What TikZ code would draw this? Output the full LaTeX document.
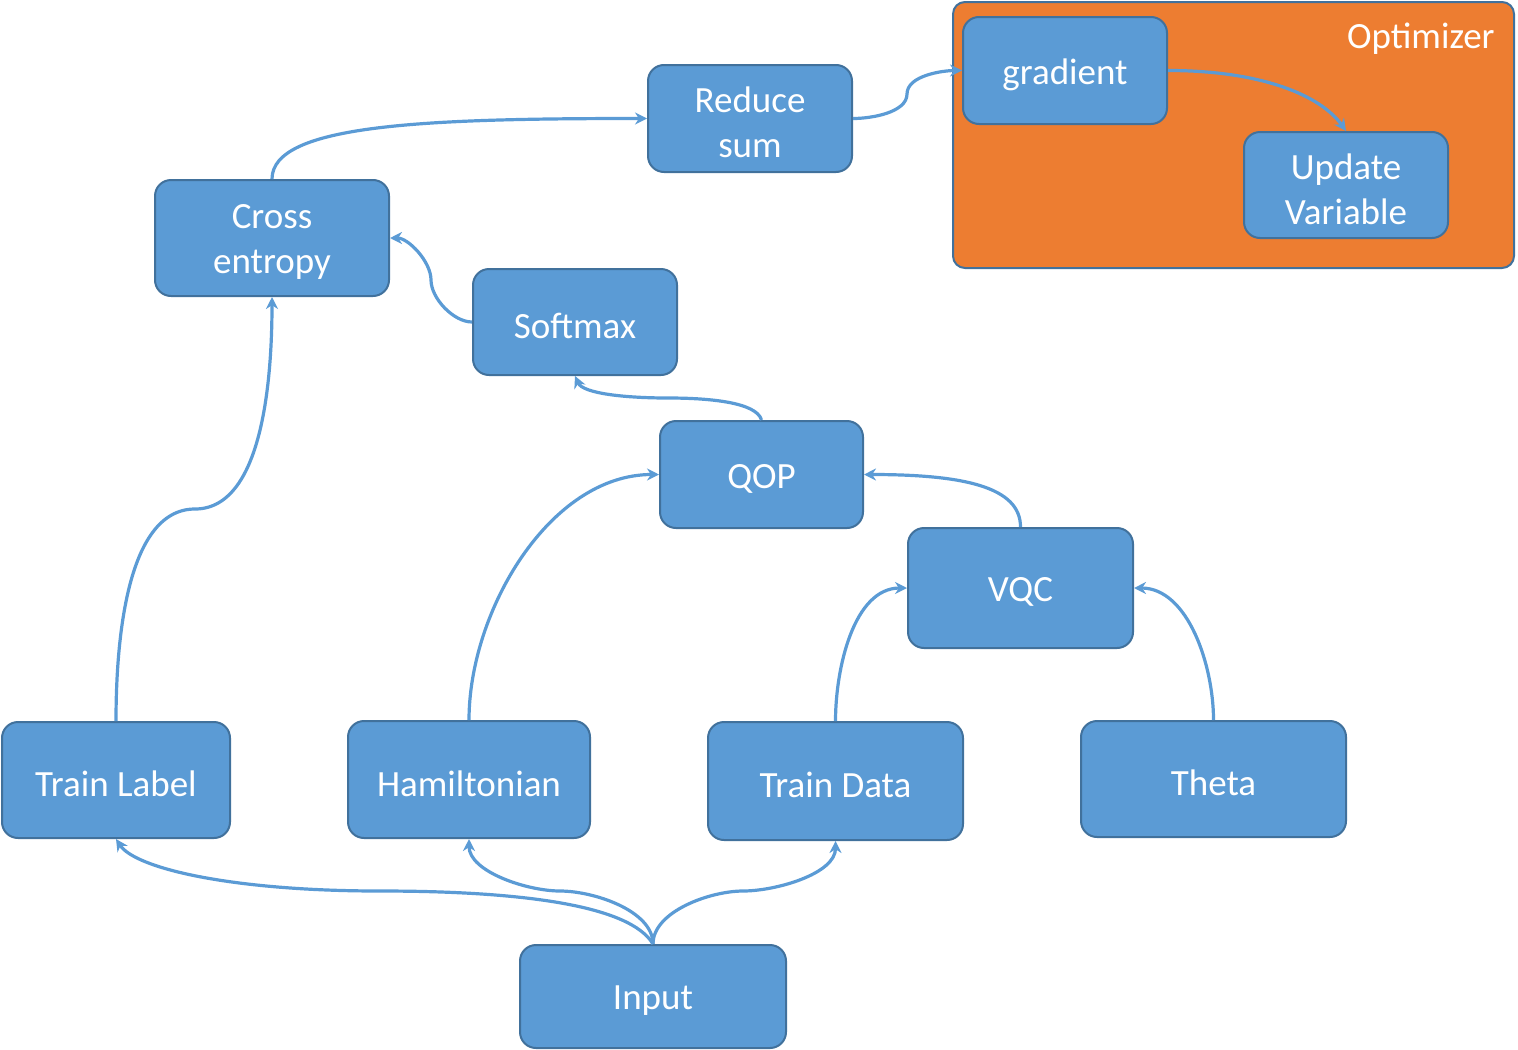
\documentclass[tikz,border=0pt]{standalone}
\usepackage{fontspec}
\setmainfont{Carlito}
\usetikzlibrary{arrows.meta}
\definecolor{boxfill}{HTML}{5B9BD5}
\definecolor{boxline}{HTML}{41719C}
\definecolor{optfill}{HTML}{ED7D31}
\tikzset{
  blk/.style={draw=boxline, line width=1pt, fill=boxfill, rounded corners=8pt, inner sep=0pt},
  blktext/.style={text=white, align=center, font=\fontsize{18.5}{22.5}\selectfont, inner sep=0pt},
  conn/.style={draw=boxfill, line width=1.6pt, -{Stealth[length=6pt,width=6pt]}},
}
\newcommand{\mkbox}[6]{%
  \node[blk, minimum width=#4*0.5pt-#2*0.5pt, minimum height=#5*0.5pt-#3*0.5pt] (#1) at ({(#2+#4)/2},{(#3+#5)/2}) {};
  \node[blktext] (#1t) at ({(#2+#4)/2},{(#3+#5)/2+4}) {#6};}
\begin{document}
\begin{tikzpicture}[x=0.5pt,y=-0.5pt]
\useasboundingbox (0,0) rectangle (1518,1049);
% optimizer container
\node[draw=boxline, line width=1pt, fill=optfill, rounded corners=6pt, minimum width=280.5pt, minimum height=133pt, inner sep=0pt] (opt) at (1233.5,135) {};
\node[text=white, font=\fontsize{18.5}{22.5}\selectfont, anchor=east, inner sep=0pt] (optlabel) at (1495,39) {Optimizer};
\mkbox{grad}{963}{17}{1167}{124}{gradient}
\mkbox{upd}{1244}{132}{1448}{238}{Update\\Variable}
\mkbox{red}{648}{65}{852}{172}{Reduce\\sum}
\mkbox{ce}{155}{180}{389}{296}{Cross\\entropy}
\mkbox{soft}{473}{269}{677}{375}{Softmax}
\mkbox{qop}{660}{421}{863}{528}{QOP}
\mkbox{vqc}{908}{528}{1133}{648}{VQC}
\mkbox{tl}{2}{722}{230}{838}{Train Label}
\mkbox{ham}{348}{721}{590}{838}{Hamiltonian}
\mkbox{td}{708}{722}{963}{840}{Train Data}
\mkbox{theta}{1081}{721}{1346}{837}{Theta}
\mkbox{inp}{520}{945}{786}{1048}{Input}
\coordinate (m1) at (380,891);
\coordinate (m2) at (560,891);
\coordinate (m3) at (743,891);
\coordinate (m4) at (195,509);
\coordinate (m5) at (668,398);
\coordinate (m6) at (431,280);
\coordinate (m7) at (907,94);
% connectors
\draw[conn] (inp.north) .. controls (630,905) and (520,891) .. (m1) .. controls (230,891) and (135,868) .. (tl.south);
\draw[conn] (inp.north) to[out=90,in=0,looseness=0.8] (m2) to[out=180,in=-90,looseness=0.8] (ham.south);
\draw[conn] (inp.north) to[out=90,in=180,looseness=0.8] (m3) to[out=0,in=-90,looseness=0.8] (td.south);
\draw[conn] (tl.north) to[out=90,in=180,looseness=0.8] (m4) to[out=0,in=-90,looseness=0.8] (ce.south);
\draw[conn] (ham.north) to[out=90,in=180,looseness=0.9] (qop.west);
\draw[conn] (td.north) to[out=90,in=180,looseness=0.9] (vqc.west);
\draw[conn] (theta.north) to[out=90,in=0,looseness=0.9] (vqc.east);
\draw[conn] (vqc.north) .. controls +(0,-40) and +(100,0) .. (qop.east);
\draw[conn] (qop.north) .. controls +(-5,-18) and +(40,0) .. (m5) .. controls +(-40,0) and +(8,18) .. (soft.south);
\draw[conn] (soft.west) to[out=180,in=-90,looseness=0.8] (m6) to[out=90,in=0,looseness=0.8] (ce.east);
\draw[conn] (ce.north) .. controls +(0,-55) and +(-220,0) .. (red.west);
\draw[conn] (red.east) to[out=0,in=-90,looseness=0.8] (m7) to[out=90,in=180,looseness=0.8] (grad.west);
\draw[conn] (grad.east) .. controls +(95,0) and +(-25,-35) .. (upd.north);
\end{tikzpicture}
\end{document}
